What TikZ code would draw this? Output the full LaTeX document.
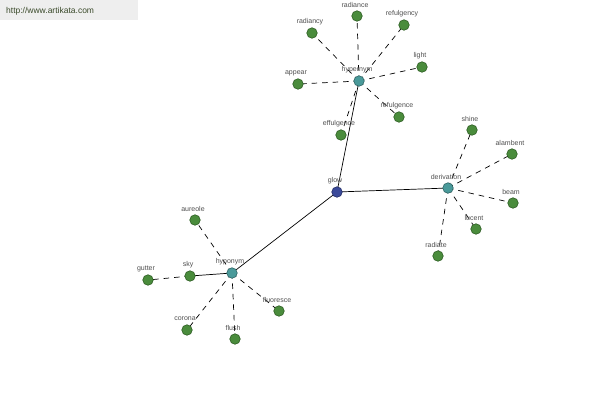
\documentclass[tikz,border=0pt]{standalone}
\usepackage{fontspec}
\setmainfont{Liberation Sans}
\definecolor{leafc}{HTML}{4A8C3C}
\definecolor{leafd}{HTML}{2E5E24}
\definecolor{hubc}{HTML}{4A9A9A}
\definecolor{hubd}{HTML}{2E6464}
\definecolor{rootc}{HTML}{3B4A9A}
\definecolor{rootd}{HTML}{222C66}
\definecolor{labc}{HTML}{505050}
\definecolor{urlbg}{HTML}{EEEEEE}
\definecolor{urlc}{HTML}{3A4A2A}
\tikzset{
  leaf/.style={circle,fill=leafc,draw=leafd,line width=0.6pt,minimum size=10.5pt,inner sep=0pt},
  hub/.style={circle,fill=hubc,draw=hubd,line width=0.6pt,minimum size=10.5pt,inner sep=0pt},
  root/.style={circle,fill=rootc,draw=rootd,line width=0.6pt,minimum size=10.5pt,inner sep=0pt},
  lab/.style={text=labc,font=\fontsize{7}{8}\selectfont,inner sep=0pt},
  solidlink/.style={draw=black,line width=0.7pt},
  dashlink/.style={draw=black,line width=0.7pt,dash pattern=on 5.5pt off 5pt},
}
\begin{document}
\begin{tikzpicture}[x=1pt,y=-1pt]
\useasboundingbox (0,0) rectangle (600,400);
\fill[white] (0,0) rectangle (600,400);
\fill[urlbg] (0,0) rectangle (138,20);
\node[text=urlc,font=\fontsize{8.5}{10}\selectfont,anchor=west,inner sep=0pt] (url) at (6,11) {http://www.artikata.com};

% nodes
\coordinate (glow) at (337,192);
\coordinate (hypernym) at (359,81);
\coordinate (derivation) at (448,188);
\coordinate (hyponym) at (232,273);
\coordinate (radiance) at (357,16);
\coordinate (radiancy) at (312,33);
\coordinate (refulgency) at (404,25);
\coordinate (light) at (422,67);
\coordinate (appear) at (298,84);
\coordinate (refulgence) at (399,117);
\coordinate (effulgence) at (341,135);
\coordinate (shine) at (472,130);
\coordinate (alambent) at (512,154);
\coordinate (beam) at (513,203);
\coordinate (lucent) at (476,229);
\coordinate (radiate) at (438,256);
\coordinate (aureole) at (195,220);
\coordinate (sky) at (190,276);
\coordinate (gutter) at (148,280);
\coordinate (corona) at (187,330);
\coordinate (flush) at (235,339);
\coordinate (fluoresce) at (279,311);

% connectors
\draw[solidlink] (glow) -- (hypernym);
\draw[solidlink] (glow) -- (derivation);
\draw[solidlink] (glow) -- (hyponym);
\foreach \n in {radiance,radiancy,refulgency,light,appear,refulgence,effulgence}
  \draw[dashlink] (hypernym) -- (\n);
\foreach \n in {shine,alambent,beam,lucent,radiate}
  \draw[dashlink] (derivation) -- (\n);
\foreach \n in {aureole,corona,flush,fluoresce}
  \draw[dashlink] (hyponym) -- (\n);
\draw[solidlink] (hyponym) -- (sky);
\draw[dashlink] (sky) -- (gutter);

% labels (drawn under the circles)
\foreach \n/\t in {radiance/radiance,radiancy/radiancy,refulgency/refulgency,light/light,appear/appear,refulgence/refulgence,effulgence/effulgence,shine/shine,alambent/alambent,beam/beam,lucent/lucent,radiate/radiate,aureole/aureole,sky/sky,gutter/gutter,corona/corona,flush/flush,fluoresce/fluoresce,hypernym/hypernym,derivation/derivation,hyponym/hyponym,glow/glow}
  \node[lab] (\n-lab) at ([xshift=-2pt,yshift=11pt]\n) {\t};

% circles
\foreach \n in {radiance,radiancy,refulgency,light,appear,refulgence,effulgence,shine,alambent,beam,lucent,radiate,aureole,sky,gutter,corona,flush,fluoresce}
  \node[leaf] (\n-dot) at (\n) {};
\foreach \n in {hypernym,derivation,hyponym}
  \node[hub] (\n-dot) at (\n) {};
\node[root] (glow-dot) at (glow) {};
\end{tikzpicture}
\end{document}
